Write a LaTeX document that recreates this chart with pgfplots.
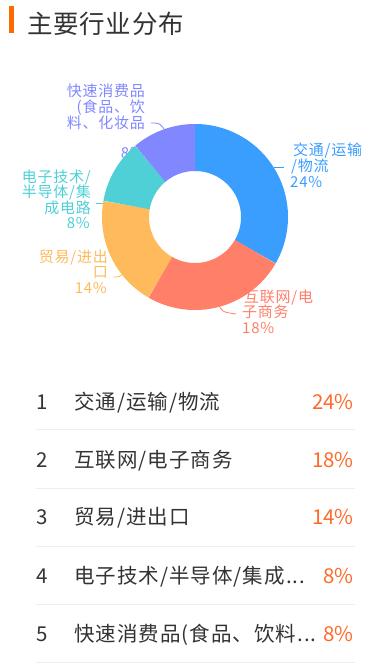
\documentclass[border=0pt]{standalone}
\usepackage{pgfplots}
\usepackage{pgfplotstable}
\pgfplotsset{compat=1.18}
\usepackage{fontspec}
\setmainfont{Noto Sans CJK SC}
\definecolor{cBlue}{HTML}{3A9EFF}
\definecolor{cRed}{HTML}{FF7F69}
\definecolor{cYellow}{HTML}{FFBA5C}
\definecolor{cCyan}{HTML}{4ED0D6}
\definecolor{cPurple}{HTML}{8087FF}
\definecolor{cText}{HTML}{333333}
\definecolor{cOrange}{HTML}{FF6A00}
\definecolor{cPct}{HTML}{FF6A2A}
\definecolor{cLine}{HTML}{EEEEEE}
\pgfplotstableread{
value col
24 cBlue
18 cRed
14 cYellow
8 cCyan
8 cPurple
}\piedata
\begin{document}
\begin{tikzpicture}
\pgfplotstablegetrowsof{\piedata}
\pgfmathtruncatemacro\nrows{\pgfplotsretval-1}
\def\total{0}
\pgfplotsforeachungrouped \i in {0,...,\nrows}{%
  \pgfplotstablegetelem{\i}{value}\of\piedata
  \pgfmathsetmacro\total{\total+\pgfplotsretval}%
}
\begin{axis}[
  scale only axis, width=387pt, height=664pt,
  xmin=0, xmax=387, ymin=0, ymax=664, y dir=reverse,
  hide axis, clip=false,
]
% title
\draw[cOrange, line width=5pt] (axis cs:11.5,6) -- (axis cs:11.5,33);
\node[anchor=base west, inner sep=0, text=cText, font=\fontsize{25.5}{28}\selectfont\addfontfeature{LetterSpace=3}] at (axis cs:27,33) {主要行业分布};
% donut labels
\begin{scope}[every node/.style={inner sep=0, font=\fontsize{15}{16}\selectfont\addfontfeature{LetterSpace=5}}]
\node[anchor=base west, text=cBlue] at (axis cs:293,155) {交通/运输};
\node[anchor=base west, text=cBlue] at (axis cs:291,171) {/物流};
\node[anchor=base west, text=cBlue] at (axis cs:290,187) {24\%};
\node[anchor=base west, text=cRed] at (axis cs:244,302) {互联网/电};
\node[anchor=base west, text=cRed] at (axis cs:242,317.5) {子商务};
\node[anchor=base west, text=cRed] at (axis cs:242,333) {18\%};
\node[anchor=base east, text=cYellow] at (axis cs:108,262) {贸易/进出};
\node[anchor=base east, text=cYellow] at (axis cs:108,277) {口};
\node[anchor=base east, text=cYellow] at (axis cs:107,293) {14\%};
\node[anchor=base east, text=cCyan] at (axis cs:91,182) {电子技术/};
\node[anchor=base east, text=cCyan] at (axis cs:91,197) {半导体/集};
\node[anchor=base east, text=cCyan] at (axis cs:91,213) {成电路};
\node[anchor=base east, text=cCyan] at (axis cs:90,228) {8\%};
\node[anchor=base east, text=cPurple] at (axis cs:145,96) {快速消费品};
\node[anchor=base east, text=cPurple] at (axis cs:145,112) {(食品、饮};
\node[anchor=base east, text=cPurple] at (axis cs:145,128) {料、化妆品};
\node[anchor=base east, text=cPurple] at (axis cs:144,158) {8\%};
\end{scope}
% leader lines
\draw[cBlue, line width=0.8pt] (axis cs:274,167) -- (axis cs:284,167);
\draw[cRed, line width=0.8pt] (axis cs:218,303) .. controls (axis cs:222,312) .. (axis cs:236,314);
\draw[cYellow, line width=0.8pt] (axis cs:124,272) .. controls (axis cs:120,277) .. (axis cs:113,277);
\draw[cCyan, line width=0.8pt] (axis cs:96,203) -- (axis cs:104,203);
\draw[cPurple, line width=0.8pt] (axis cs:166,132) .. controls (axis cs:160,123) .. (axis cs:151,123);
% donut slices
\def\cum{0}
\pgfplotsforeachungrouped \i in {0,...,\nrows}{%
  \pgfplotstablegetelem{\i}{value}\of\piedata \let\myv\pgfplotsretval
  \pgfplotstablegetelem{\i}{col}\of\piedata \let\myc\pgfplotsretval
  \pgfmathsetmacro\mys{90-(\cum/\total)*360}%
  \pgfmathsetmacro\mye{\mys-(\myv/\total)*360}%
  \pgfmathsetmacro\cum{\cum+\myv}%
  \edef\temp{\noexpand\addplot[draw=\myc, line width=47pt, line cap=butt, domain=\mye:\mys, samples=120] ({195+69.5*cos(x)},{217-69.5*sin(x)});}%
  \temp
}
% list
\begin{scope}[every node/.style={inner sep=0, font=\fontsize{20.5}{24}\selectfont}]
\node[anchor=base west, text=cText] at (axis cs:36,409.5) {1};
\node[anchor=base west, text=cText] at (axis cs:36,467.5) {2};
\node[anchor=base west, text=cText] at (axis cs:36,524.5) {3};
\node[anchor=base west, text=cText] at (axis cs:36,583.5) {4};
\node[anchor=base west, text=cText] at (axis cs:36,641.5) {5};
\node[anchor=base east, text=cPct] at (axis cs:354,409.5) {24\%};
\node[anchor=base east, text=cPct] at (axis cs:354,467.5) {18\%};
\node[anchor=base east, text=cPct] at (axis cs:354,524.5) {14\%};
\node[anchor=base east, text=cPct] at (axis cs:354,583.5) {8\%};
\node[anchor=base east, text=cPct] at (axis cs:354,641.5) {8\%};
\end{scope}
\begin{scope}[every node/.style={inner sep=0, font=\fontsize{20.5}{24}\selectfont\addfontfeature{LetterSpace=5}}]
\node[anchor=base west, text=cText] at (axis cs:74,409.5) {交通/运输/物流};
\node[anchor=base west, text=cText] at (axis cs:74,467.5) {互联网/电子商务};
\node[anchor=base west, text=cText] at (axis cs:74,524.5) {贸易/进出口};
\node[anchor=base west, text=cText] at (axis cs:74,583.5) {电子技术/半导体/集成...};
\node[anchor=base west, text=cText] at (axis cs:74,641.5) {快速消费品(食品、饮料...};
\end{scope}
\pgfplotsinvokeforeach{429,488,546,604,662.5}{
  \draw[cLine, line width=1pt] (axis cs:36,#1) -- (axis cs:355,#1);
}
\end{axis}
\useasboundingbox (current axis.south west) rectangle (current axis.north east);
\end{tikzpicture}
\end{document}
